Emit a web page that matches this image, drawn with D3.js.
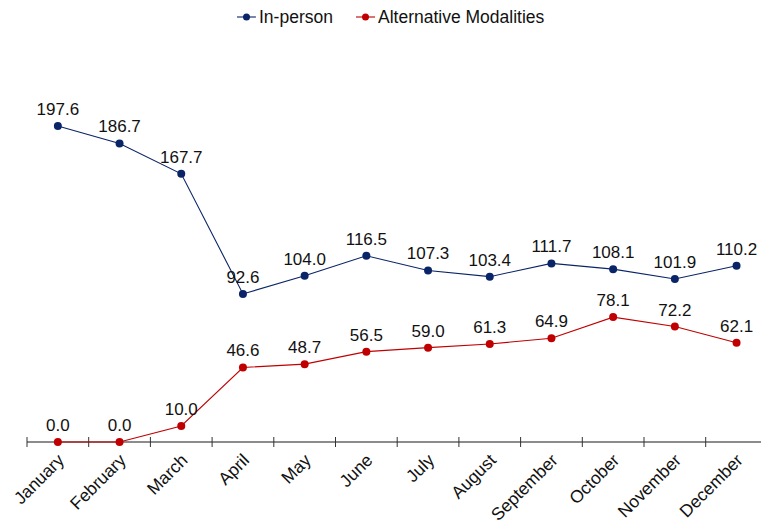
<!DOCTYPE html>
<html>
<head>
<meta charset="utf-8">
<script src="https://cdn.jsdelivr.net/npm/d3@7"></script>
<style>
  html, body { margin: 0; padding: 0; background: #fff; }
  svg { display: block; font-family: "Liberation Sans", Arial, sans-serif; }
</style>
</head>
<body>
<svg id="chart" width="761" height="526"></svg>
<script>
const months = ["January", "February", "March", "April", "May", "June",
  "July", "August", "September", "October", "November", "December"];
const inPerson = [197.6, 186.7, 167.7, 92.6, 104.0, 116.5, 107.3, 103.4, 111.7, 108.1, 101.9, 110.2];
const alternative = [0.0, 0.0, 10.0, 46.6, 48.7, 56.5, 59.0, 61.3, 64.9, 78.1, 72.2, 62.1];
const seriesNames = ["In-person", "Alternative Modalities"];
const seriesColors = ["#0a2468", "#c00000"];

const svg = d3.select("#chart");

const x = d3.scaleBand().domain(months).range([27, 767.4]);
const y = d3.scaleLinear().domain([0, 250]).range([442, 442 - 250 * 1.599]);
const cx = m => x(m) + x.bandwidth() / 2;

// category axis along the zero line
const axis = svg.append("g").attr("transform", `translate(0,${y(0)})`);
axis.append("line")
  .attr("x1", 27).attr("x2", 761)
  .attr("stroke", "#666").attr("stroke-width", 1.5);
axis.selectAll("line.tick")
  .data(d3.range(months.length + 1))
  .join("line")
  .attr("class", "tick")
  .attr("x1", i => 27 + i * x.step()).attr("x2", i => 27 + i * x.step())
  .attr("y1", -5).attr("y2", 5)
  .attr("stroke", "#333").attr("stroke-width", 1);
axis.selectAll("text")
  .data(months)
  .join("text")
  .attr("transform", d => `translate(${cx(d) + 3},${15}) rotate(-45)`)
  .attr("text-anchor", "end")
  .attr("dy", "0.35em")
  .attr("font-size", 17.5)
  .attr("fill", "#111")
  .text(d => d);

const series = [inPerson, alternative];
const line = d3.line().x((d, i) => cx(months[i])).y(d => y(d));

series.forEach((vals, s) => {
  const g = svg.append("g");
  g.append("path")
    .datum(vals)
    .attr("d", line)
    .attr("fill", "none")
    .attr("stroke", seriesColors[s])
    .attr("stroke-width", 1.1);
  g.selectAll("circle")
    .data(vals)
    .join("circle")
    .attr("cx", (d, i) => cx(months[i]))
    .attr("cy", d => y(d))
    .attr("r", 4)
    .attr("fill", seriesColors[s]);
  g.selectAll("text")
    .data(vals)
    .join("text")
    .attr("x", (d, i) => cx(months[i]))
    .attr("y", d => y(d) - 11)
    .attr("text-anchor", "middle")
    .attr("font-size", 17)
    .attr("fill", "#111")
    .text(d => d.toFixed(1));
});

// legend
const legendX = [237, 356];
const legend = svg.append("g");
seriesNames.forEach((name, s) => {
  const lg = legend.append("g").attr("transform", `translate(${legendX[s]},17)`);
  lg.append("line").attr("x1", 0).attr("x2", 19).attr("stroke", seriesColors[s]).attr("stroke-width", 1.1);
  lg.append("circle").attr("cx", 9.5).attr("r", 3.5).attr("fill", seriesColors[s]);
  lg.append("text").attr("x", 22).attr("dy", "0.35em").attr("font-size", 17.5).attr("fill", "#111").text(name);
});
</script>
</body>
</html>
